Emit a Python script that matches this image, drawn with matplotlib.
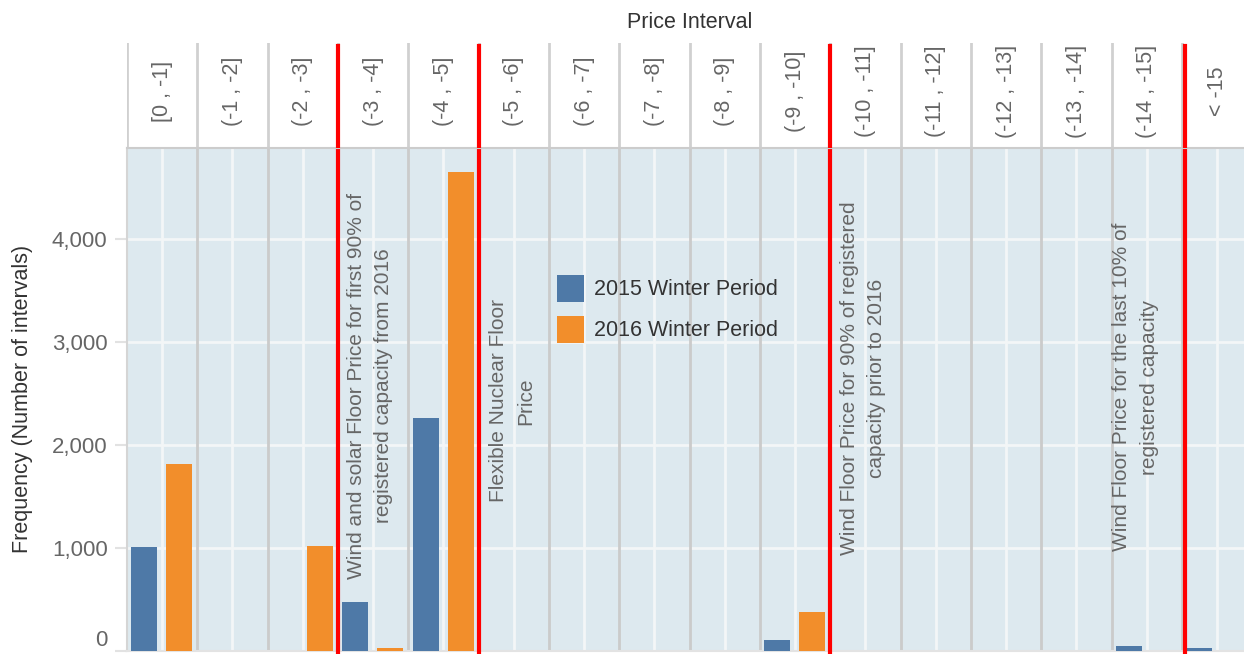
import matplotlib
matplotlib.use("Agg")
from matplotlib import pyplot as plt

plt.rcParams['font.family'] = ['Liberation Sans', 'DejaVu Sans']

categories = ['[0 , -1]', '(-1 , -2]', '(-2 , -3]', '(-3 , -4]', '(-4 , -5]', '(-5 , -6]',
              '(-6 , -7]', '(-7 , -8]', '(-8 , -9]', '(-9 , -10]', '(-10 , -11]', '(-11 , -12]',
              '(-12 , -13]', '(-13 , -14]', '(-14 , -15]', '< -15']
winter_2015 = [1003, 0, 0, 472, 2262, 0, 0, 0, 0, 102, 0, 0, 0, 0, 47, 20]
winter_2016 = [1814, 0, 1015, 20, 4655, 0, 0, 0, 0, 375, 0, 0, 0, 0, 0, 0]
floor_lines = [3, 5, 10, 15.04]
notes = [
    (3.45, 2573, 'Wind and solar Floor Price for first 90% of\nregistered capacity from 2016'),
    (5.47, 2427, 'Flexible Nuclear Floor\nPrice'),
    (10.46, 2651, 'Wind Floor Price for 90% of registered\ncapacity prior to 2016'),
    (14.34, 2563, 'Wind Floor Price for the last 10% of\nregistered capacity'),
]

BLUE = '#4e79a7'
ORANGE = '#f28e2b'
BG = '#dde9ef'
W, H = 1244, 654
n = len(categories)

fig = plt.figure(figsize=(W / 100, H / 100), dpi=100)
x0 = 127
col_w = 70.33
ax = fig.add_axes([x0 / W, (H - 650.5) / H, col_w * n / W, 502.5 / H])
hdr = fig.add_axes([x0 / W, (H - 148) / H, col_w * n / W, 105 / H])

# main plot
ax.set_facecolor(BG)
ax.set_xlim(0, n)
ax.set_ylim(0, 4888)
for y in [1000, 2000, 3000, 4000]:
    ax.axhline(y, color='#f3f6f7', lw=2, zorder=1)
for i in range(n):
    ax.axvline(i + 0.5, color='#f3f6f7', lw=2, zorder=1)
    if i > 0:
        ax.axvline(i, color='#cbcbcb', lw=2, zorder=1)

xs = list(range(n))
ax.bar([i + 0.245 for i in xs], winter_2015, width=0.37, color=BLUE, zorder=3, label='2015 Winter Period')
ax.bar([i + 0.745 for i in xs], winter_2016, width=0.37, color=ORANGE, zorder=3, label='2016 Winter Period')

for xl in floor_lines:
    ax.axvline(xl, ymin=-0.02, ymax=1, color='#ff0000', lw=3, zorder=5, clip_on=False)

for x, y, t in notes:
    ax.text(x, y, t, rotation=90, ha='center', va='center', multialignment='center',
            fontsize=15, color='#666666', zorder=6, linespacing=1.55)

ax.set_xticks([])
ax.set_yticks([0, 1000, 2000, 3000, 4000])
ax.set_yticklabels(['0', '1,000', '2,000', '3,000', '4,000'])
ax.tick_params(axis='y', length=9, width=1.5, color='#e2e2e2', labelsize=16, labelcolor='#666666', pad=5)
ax.yaxis.get_major_ticks()[0].label1.set_verticalalignment('bottom')
for s in ['top', 'right']:
    ax.spines[s].set_visible(False)
ax.spines['left'].set_color('#d5d5d5')
ax.spines['left'].set_linewidth(1.5)
ax.spines['bottom'].set_color('#e3e3e3')
ax.spines['bottom'].set_linewidth(1.5)
ax.set_ylabel('Frequency (Number of intervals)', fontsize=15.5, color='#333333')
ax.yaxis.set_label_coords(-(x0 - 33) / (col_w * n), 0.5)

leg = ax.legend(loc='upper left', bbox_to_anchor=((548 - x0) / (col_w * n), (650.5 - 266) / 502.5),
                frameon=False, fontsize=15.5, handlelength=1.25, handleheight=1.55,
                handletextpad=0.5, labelspacing=0.65, borderaxespad=0)
for t in leg.get_texts():
    t.set_color('#333333')

# header with the interval labels
hdr.set_xlim(0, n)
hdr.set_ylim(0, 1)
hdr.set_facecolor('white')
for i in range(n + 1):
    hdr.axvline(i, color='#d0d0d0', lw=2, zorder=1)
for i, c in enumerate(categories):
    hdr.text(i + 0.5, 0.54, c, rotation=90, ha='center', va='center', fontsize=15.5, color='#666666')
for xl in floor_lines:
    hdr.axvline(xl, ymin=0, ymax=0.97, color='#ff0000', lw=3, zorder=5)
hdr.set_xticks([])
hdr.set_yticks([])
for s in ['top', 'right', 'left']:
    hdr.spines[s].set_visible(False)
hdr.spines['bottom'].set_color('#cccccc')
hdr.spines['bottom'].set_linewidth(1.5)

fig.text((x0 + col_w * n / 2) / W, 1 - 22 / H, 'Price Interval', ha='center', va='center',
         fontsize=15.5, color='#333333')

fig.savefig('out.png', dpi=100)
